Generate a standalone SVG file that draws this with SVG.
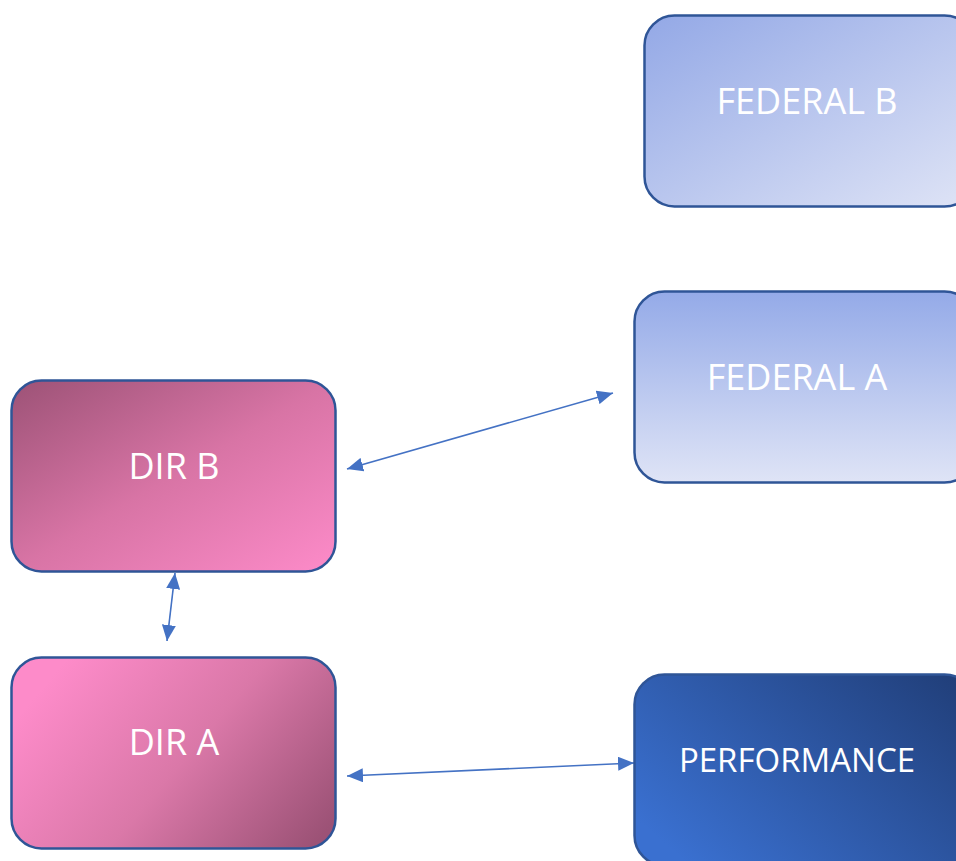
<svg xmlns="http://www.w3.org/2000/svg" width="956" height="861" viewBox="0 0 956 861">
  <defs>
    <linearGradient id="gFedB" x1="0" y1="0" x2="1" y2="1">
      <stop offset="0" stop-color="#93a8e6"/>
      <stop offset="1" stop-color="#dfe4f6"/>
    </linearGradient>
    <linearGradient id="gFedA" x1="0" y1="0" x2="0" y2="1">
      <stop offset="0" stop-color="#94aae8"/>
      <stop offset="1" stop-color="#dfe4f6"/>
    </linearGradient>
    <linearGradient id="gDirB" x1="0" y1="0" x2="1" y2="1">
      <stop offset="0" stop-color="#9c5276"/>
      <stop offset="0.5" stop-color="#d874a5"/>
      <stop offset="1" stop-color="#fd8bc9"/>
    </linearGradient>
    <linearGradient id="gDirA" x1="0" y1="0.35" x2="1" y2="0.85">
      <stop offset="0" stop-color="#fd8bc9"/>
      <stop offset="0.5" stop-color="#da78a8"/>
      <stop offset="1" stop-color="#9c5276"/>
    </linearGradient>
    <linearGradient id="gPerf" x1="0" y1="0.75" x2="1" y2="0.1">
      <stop offset="0" stop-color="#3a70d0"/>
      <stop offset="1" stop-color="#213f7a"/>
    </linearGradient>
    <marker id="arr" viewBox="0 0 16 14" refX="16" refY="7" markerWidth="16" markerHeight="14" markerUnits="userSpaceOnUse" orient="auto-start-reverse">
      <path d="M0,0 L16,7 L0,14 Z" fill="#4472c4"/>
    </marker>
  </defs>
  <style>
    .box { stroke: #2f5597; stroke-width: 2.5; }
    .lbl { font-family: "Open Sans", "Noto Sans", sans-serif; font-size: 36px; fill: #ffffff; text-anchor: middle; dominant-baseline: central; }
    .lbl2 { font-family: "Open Sans", "Noto Sans", sans-serif; font-size: 33px; fill: #ffffff; text-anchor: middle; dominant-baseline: central; }
    .conn { stroke: #4472c4; stroke-width: 1.6; fill: none; marker-start: url(#arr); marker-end: url(#arr); }
  </style>
  <rect width="956" height="861" fill="#ffffff"/>
  <g id="connectors">
    <line class="conn" x1="347" y1="469" x2="613" y2="393"/>
    <line class="conn" x1="175" y1="573" x2="167" y2="641"/>
    <line class="conn" x1="347" y1="776" x2="634" y2="763"/>
  </g>
  <g id="federal-b">
    <rect class="box" x="644.5" y="15.5" width="330" height="191" rx="30" fill="url(#gFedB)"/>
    <text class="lbl" x="807" y="100">FEDERAL B</text>
  </g>
  <g id="federal-a">
    <rect class="box" x="634.5" y="291.5" width="340" height="191" rx="30" fill="url(#gFedA)"/>
    <text class="lbl" x="797" y="376">FEDERAL A</text>
  </g>
  <g id="dir-b">
    <rect class="box" x="11.5" y="380.5" width="324" height="191" rx="30" fill="url(#gDirB)"/>
    <text class="lbl" x="174" y="465">DIR B</text>
  </g>
  <g id="dir-a">
    <rect class="box" x="11.5" y="657.5" width="324" height="191" rx="30" fill="url(#gDirA)"/>
    <text class="lbl" x="174" y="741">DIR A</text>
  </g>
  <g id="performance">
    <rect class="box" x="634.5" y="674.5" width="340" height="191" rx="30" fill="url(#gPerf)"/>
    <text class="lbl2" x="797" y="759">PERFORMANCE</text>
  </g>
</svg>
